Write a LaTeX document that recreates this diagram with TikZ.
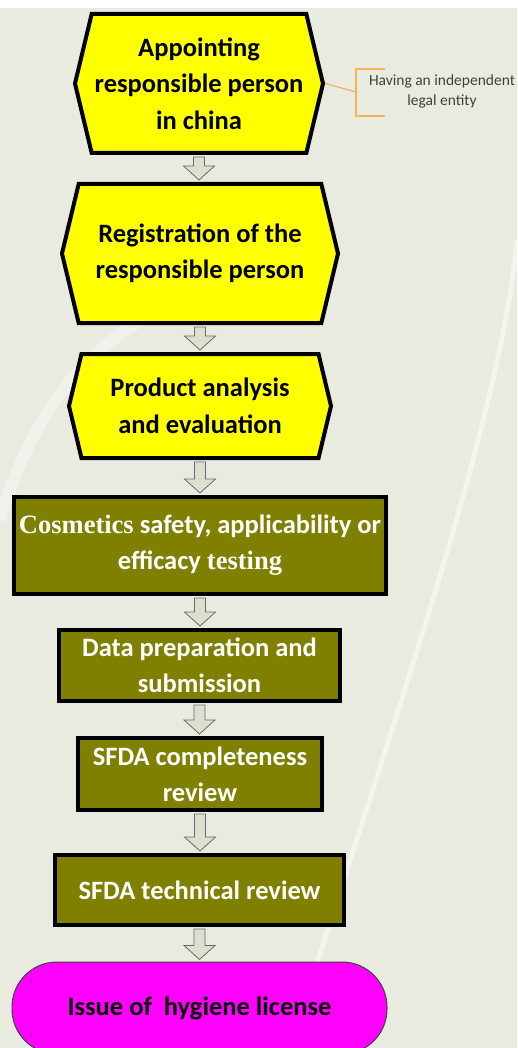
\documentclass[tikz,border=0pt]{standalone}
\usepackage{fontspec}
\setmainfont{Carlito}
\newfontfamily\serifbold{Liberation Serif}
\usetikzlibrary{shapes.symbols,calc}
\definecolor{pagebg}{RGB}{233,235,225}
\definecolor{stepyellow}{RGB}{255,255,0}
\definecolor{stepolive}{RGB}{128,128,0}
\definecolor{stepmagenta}{RGB}{255,0,255}
\definecolor{arrowfill}{RGB}{221,224,207}
\definecolor{arrowedge}{RGB}{105,105,105}
\definecolor{noteorange}{RGB}{247,178,92}
\tikzset{
  hexstep/.style = {
    shape=signal, signal to=east and west, signal pointer angle=153,
    draw=black, line width=4pt, fill=stepyellow, inner sep=0pt,
    align=center, font=\fontsize{26.5}{36.5}\selectfont\bfseries
  },
  boxstep/.style = {
    rectangle, draw=black, line width=4pt, fill=stepolive, text=white,
    inner sep=0pt, align=center, font=\fontsize{26.5}{36}\selectfont\bfseries
  },
  endstep/.style = {
    rectangle, rounded corners=45pt, draw=black!75, line width=1pt,
    fill=stepmagenta, font=\fontsize{26.5}{36}\selectfont\bfseries
  },
  flowarrow/.style = {fill=arrowfill, draw=arrowedge, line width=0.8pt},
  noteline/.style = {draw=noteorange, line width=1.2pt},
  notetext/.style = {font=\fontsize{15.5}{20}\selectfont, text=black!75, align=center}
}
\newcommand{\flowstep}[2]{%
  \draw[flowarrow] let \p1=(#1.south), \p2=(#2.north) in
    (\x1-5.5pt,\y1-2pt) -- (\x1-5.5pt,\y2+16pt) -- (\x1-15.5pt,\y2+16pt) -- (\x1,\y2+2pt)
    -- (\x1+15.5pt,\y2+16pt) -- (\x1+5.5pt,\y2+16pt) -- (\x1+5.5pt,\y1-2pt) -- cycle;}

\begin{document}
\begin{tikzpicture}[x=1pt,y=-1pt]
  \useasboundingbox (0,0) rectangle (517,1048);
  \fill[pagebg] (0,8) rectangle (517,1048);
  \draw[white,opacity=0.3,line width=12pt] (0,520) .. controls (30,420) and (80,350) .. (160,310);
  \draw[white,opacity=0.45,line width=5pt] (517,240) .. controls (500,420) and (400,700) .. (290,1048);

  \node[hexstep, minimum width=248, minimum height=139] (appoint) at (199,83.5)
    {Appointing\\responsible person\\in china};
  \node[hexstep, minimum width=276, minimum height=139] (register) at (200,253.5)
    {Registration of the\\responsible person};
  \node[hexstep, minimum width=262, minimum height=104] (analysis) at (200,406)
    {Product analysis\\and evaluation};
  \node[boxstep, minimum width=372, minimum height=97] (testing) at (200,545.5)
    {{\serifbold Cosmetics} safety, applicability or\\efficacy {\serifbold testing}};
  \node[boxstep, minimum width=281, minimum height=71] (submit) at (199.5,665.5)
    {Data preparation and\\submission};
  \node[boxstep, minimum width=244, minimum height=72] (complete) at (200,774)
    {SFDA completeness\\review};
  \node[boxstep, minimum width=289, minimum height=70] (technical) at (199.5,890)
    {SFDA technical review};
  \node[endstep, minimum width=375, minimum height=92] (license) at (199.5,1008)
    {Issue of \ hygiene license};

  \foreach \a/\b in {appoint/register, register/analysis, analysis/testing, testing/submit,
      submit/complete, complete/technical, technical/license}
    \flowstep{\a}{\b};

  \node[notetext] (entity) at (442,91) {Having an independent\\legal entity};
  \coordinate (brace) at (356,92);
  \draw[noteline] (appoint.east) -- (brace);
  \draw[noteline] (385,69) -- (356,69) -- (356,116) -- (385,116);
\end{tikzpicture}
\end{document}
